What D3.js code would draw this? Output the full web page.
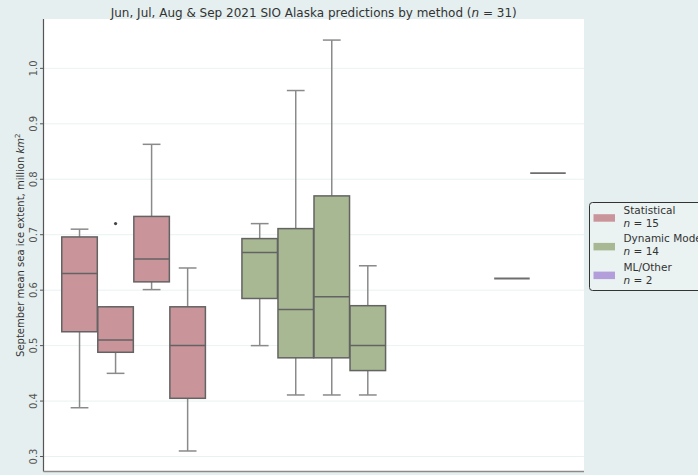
<!DOCTYPE html>
<html>
<head>
<meta charset="utf-8">
<script src="https://cdn.jsdelivr.net/npm/d3@7"></script>
<style>
  html, body { margin: 0; padding: 0; background: #e5efef; }
  svg { display: block; font-family: "DejaVu Sans", sans-serif; }
</style>
</head>
<body>
<svg id="chart" width="698" height="475"></svg>
<script>
// ---- data ----
const groups = ["Statistical", "Dynamic Model", "ML/Other"];
const months = ["Jun", "Jul", "Aug", "Sep"];
const groupN = [15, 14, 2];
const totalN = 31;
const yTicks = [0.3, 0.4, 0.5, 0.6, 0.7, 0.8, 0.9, 1.0];

// Statistical, per month
const statQ1  = [0.525, 0.488, 0.615, 0.405];
const statMed = [0.630, 0.510, 0.656, 0.500];
const statQ3  = [0.696, 0.570, 0.733, 0.570];
const statLo  = [0.388, 0.450, 0.601, 0.310];
const statHi  = [0.710, 0.570, 0.863, 0.640];
const statOut = [[], [0.720], [], []];

// Dynamic Model, per month
const dynQ1  = [0.585, 0.478, 0.478, 0.455];
const dynMed = [0.668, 0.565, 0.588, 0.500];
const dynQ3  = [0.693, 0.711, 0.770, 0.572];
const dynLo  = [0.500, 0.411, 0.411, 0.411];
const dynHi  = [0.720, 0.960, 1.051, 0.644];
const dynOut = [[], [], [], []];

// ML/Other, single forecasts per month (null = none)
const mlVal = [null, null, 0.621, 0.811];

const groupColors = ["#c9959b", "#a8b892", "#b39ddb"];

// ---- layout ----
const plot = { left: 43.5, right: 584, top: 19, bottom: 471.5 };
const svg = d3.select("#chart");

const x = d3.scaleBand().domain(groups).range([plot.left, plot.right]).padding(0);
const xInner = d3.scaleBand().domain(months)
  .range([x.bandwidth() * 0.1, x.bandwidth() * 0.9]).padding(0);
const y = d3.scaleLinear().domain([0.273, 1.089]).range([plot.bottom, plot.top]);

// plot background
svg.append("rect")
  .attr("x", plot.left).attr("y", plot.top)
  .attr("width", plot.right - plot.left).attr("height", plot.bottom - plot.top)
  .attr("fill", "#ffffff");

// grid
svg.append("g").selectAll("line").data(yTicks).join("line")
  .attr("x1", plot.left).attr("x2", plot.right)
  .attr("y1", d => y(d)).attr("y2", d => y(d))
  .attr("stroke", "#e9f2f2").attr("stroke-width", 1);

// build box records
const boxes = [];
months.forEach((m, i) => {
  boxes.push({ g: groups[0], m, q1: statQ1[i], med: statMed[i], q3: statQ3[i], lo: statLo[i], hi: statHi[i], out: statOut[i], c: groupColors[0] });
  boxes.push({ g: groups[1], m, q1: dynQ1[i], med: dynMed[i], q3: dynQ3[i], lo: dynLo[i], hi: dynHi[i], out: dynOut[i], c: groupColors[1] });
  if (mlVal[i] !== null) {
    const v = mlVal[i];
    boxes.push({ g: groups[2], m, q1: v, med: v, q3: v, lo: v, hi: v, out: [], c: groupColors[2] });
  }
});

const edge = "#636363";
const whisk = "#8a8a8a";
const bw = xInner.bandwidth() - 0.5;
const gBoxes = svg.append("g");

boxes.forEach(b => {
  const cx = x(b.g) + xInner(b.m) + xInner.bandwidth() / 2;
  const g = gBoxes.append("g");
  if (b.q3 > b.q1) {
    // whiskers
    g.append("line").attr("x1", cx).attr("x2", cx).attr("y1", y(b.q3)).attr("y2", y(b.hi))
      .attr("stroke", whisk).attr("stroke-width", 1.5);
    g.append("line").attr("x1", cx).attr("x2", cx).attr("y1", y(b.q1)).attr("y2", y(b.lo))
      .attr("stroke", whisk).attr("stroke-width", 1.5);
    // caps
    [b.hi, b.lo].forEach(v => {
      g.append("line").attr("x1", cx - bw / 4).attr("x2", cx + bw / 4)
        .attr("y1", y(v)).attr("y2", y(v))
        .attr("stroke", whisk).attr("stroke-width", 1.5);
    });
    // box
    g.append("rect")
      .attr("x", cx - bw / 2).attr("y", y(b.q3))
      .attr("width", bw).attr("height", y(b.q1) - y(b.q3))
      .attr("fill", b.c).attr("stroke", edge).attr("stroke-width", 1.5);
    // median
    g.append("line").attr("x1", cx - bw / 2).attr("x2", cx + bw / 2)
      .attr("y1", y(b.med)).attr("y2", y(b.med))
      .attr("stroke", edge).attr("stroke-width", 1.5);
  } else {
    // single forecast: flat box drawn as a line
    g.append("line").attr("x1", cx - bw / 2).attr("x2", cx + bw / 2)
      .attr("y1", y(b.med)).attr("y2", y(b.med))
      .attr("stroke", "#6e6e6e").attr("stroke-width", 1.8);
  }
  // outliers
  b.out.forEach(v => {
    g.append("circle").attr("cx", cx).attr("cy", y(v)).attr("r", 1.6).attr("fill", "#444");
  });
});

// y axis
const yAxis = svg.append("g");
yAxis.append("line").attr("x1", plot.left).attr("x2", plot.left)
  .attr("y1", plot.top).attr("y2", plot.bottom)
  .attr("stroke", "#555").attr("stroke-width", 1.2);
yAxis.selectAll("line.tick").data(yTicks).join("line").attr("class", "tick")
  .attr("x1", plot.left - 3.5).attr("x2", plot.left)
  .attr("y1", d => y(d)).attr("y2", d => y(d))
  .attr("stroke", "#555").attr("stroke-width", 1);
yAxis.selectAll("text").data(yTicks).join("text")
  .attr("transform", d => `translate(36.5,${y(d)}) rotate(-90)`)
  .attr("text-anchor", "middle")
  .attr("font-size", "10px").attr("fill", "#555")
  .text(d3.format(".1f"));

// bottom spine
svg.append("line").attr("x1", plot.left).attr("x2", plot.right)
  .attr("y1", plot.bottom).attr("y2", plot.bottom)
  .attr("stroke", "#8a8a8a").attr("stroke-width", 1.5);

// y label
const yl = svg.append("text")
  .attr("transform", `translate(23.5,${(plot.top + plot.bottom) / 2}) rotate(-90)`)
  .attr("text-anchor", "middle").attr("font-size", "10px").attr("fill", "#333");
yl.append("tspan").text("September mean sea ice extent, million ");
yl.append("tspan").attr("font-style", "italic").text("km");
yl.append("tspan").attr("font-size", "7px").attr("dy", "-4").text("2");

// title
const t = svg.append("text")
  .attr("x", (plot.left + plot.right) / 2).attr("y", 16.5)
  .attr("text-anchor", "middle").attr("font-size", "12px").attr("fill", "#333");
t.append("tspan").text("Jun, Jul, Aug & Sep 2021 SIO Alaska predictions by method (");
t.append("tspan").attr("font-style", "italic").text("n");
t.append("tspan").text(` = ${totalN})`);

// legend
const lg = svg.append("g");
lg.append("rect").attr("x", 589.5).attr("y", 202.5).attr("width", 130).attr("height", 88)
  .attr("rx", 3).attr("fill", "rgba(255,255,255,0.2)").attr("stroke", "#333").attr("stroke-width", 1);
groups.forEach((gname, i) => {
  const base = 213.7 + i * 28.7;
  lg.append("rect").attr("x", 593.5).attr("y", base + 0.5).attr("width", 21.5).attr("height", 7.5)
    .attr("fill", groupColors[i]);
  lg.append("text").attr("x", 623.5).attr("y", base)
    .attr("font-size", "10.5px").attr("fill", "#333").text(gname);
  const nt = lg.append("text").attr("x", 623.5).attr("y", base + 13)
    .attr("font-size", "10.5px").attr("fill", "#333");
  nt.append("tspan").attr("font-style", "italic").text("n");
  nt.append("tspan").text(` = ${groupN[i]}`);
});
</script>
</body>
</html>
